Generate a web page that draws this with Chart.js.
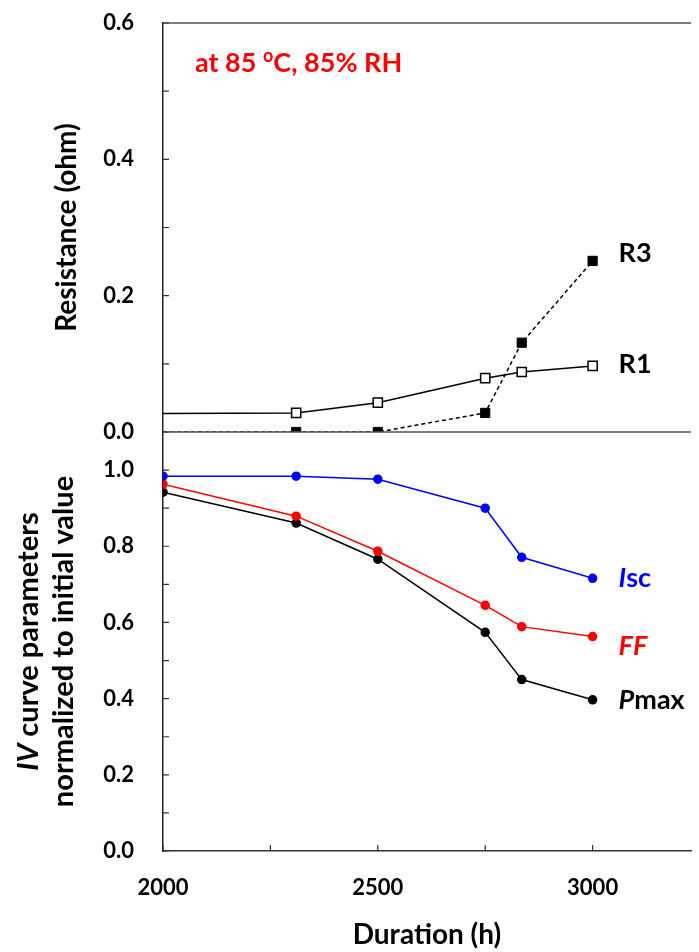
<!DOCTYPE html>
<html>
<head>
<meta charset="utf-8">
<script src="https://cdn.jsdelivr.net/npm/chart.js@4.4.0/dist/chart.umd.min.js"></script>
<style>
  html, body { margin: 0; padding: 0; background: #fff; overflow: hidden; }
  #chart { display: block; }
</style>
</head>
<body>
<canvas id="chart" width="699" height="952"></canvas>
<script>
// test duration (h)
const hours = [2000, 2310, 2500, 2750, 2835, 3000];

// series resistances (ohm)
const r1 = [0.027, 0.028, 0.043, 0.079, 0.088, 0.097];
const r3 = [0.000, 0.000, 0.000, 0.028, 0.131, 0.251];

// IV curve parameters normalized to initial value
const isc = [0.984, 0.984, 0.976, 0.900, 0.771, 0.716];
const ff = [0.963, 0.879, 0.787, 0.645, 0.589, 0.563];
const pmax = [0.942, 0.861, 0.766, 0.574, 0.450, 0.397];

// ticks (all marks) and the ones that get a label
const xTicks = [2000, 2250, 2500, 2750, 3000];
const xLabels = [2000, 2500, 3000];
const resTicks = [0, 0.1, 0.2, 0.3, 0.4, 0.5, 0.6];
const resLabels = [0, 0.2, 0.4, 0.6];
const ivTicks = [0, 0.1, 0.2, 0.3, 0.4, 0.5, 0.6, 0.7, 0.8, 0.9, 1.0];
const ivLabels = [0, 0.2, 0.4, 0.6, 0.8, 1.0];

const FONT = 'Lato';
Chart.defaults.font.family = FONT;

const pts = (ys) => hours.map((h, i) => ({x: h, y: ys[i]}));
const hasLabel = (list, v) => list.some(l => Math.abs(l - v) < 1e-6);
const noPad = (s) => { s.paddingTop = 0; s.paddingBottom = 0; s.paddingLeft = 0; s.paddingRight = 0; };

// draw text made of several runs (italic / superscript parts)
const drawRuns = (ctx, runs, x, y, size, align) => {
    const fontOf = (r) => `${r.italic ? 'italic ' : ''}bold ${r.sup ? Math.round(size * 0.65) : size}px ${FONT}`;
    let total = 0;
    runs.forEach(r => { ctx.font = fontOf(r); total += ctx.measureText(r.text).width; });
    let cx = align === 'center' ? x - total / 2 : x;
    ctx.textAlign = 'left';
    runs.forEach(r => {
        ctx.font = fontOf(r);
        ctx.fillStyle = r.color || '#000';
        ctx.fillText(r.text, cx, r.sup ? y - size * 0.38 : y);
        cx += ctx.measureText(r.text).width;
    });
};

const decorations = {
    id: 'decorations',
    afterDraw(chart) {
        const ctx = chart.ctx;
        const {x, yR, yIV} = chart.scales;
        ctx.save();

        // frame: top border and panel separator
        ctx.strokeStyle = '#555';
        ctx.lineWidth = 1.5;
        ctx.beginPath();
        ctx.moveTo(x.left, yR.top);
        ctx.lineTo(x.right, yR.top);
        ctx.moveTo(x.left, yR.getPixelForValue(0));
        ctx.lineTo(x.right, yR.getPixelForValue(0));
        ctx.stroke();

        // inward tick marks
        ctx.strokeStyle = '#333';
        ctx.lineWidth = 1.2;
        ctx.beginPath();
        [yR, yIV].forEach(s => {
            s.ticks.forEach(t => {
                const py = s.getPixelForValue(t.value);
                ctx.moveTo(x.left, py);
                ctx.lineTo(x.left + 6, py);
            });
        });
        x.ticks.forEach(t => {
            const px = x.getPixelForValue(t.value);
            ctx.moveTo(px, yIV.bottom);
            ctx.lineTo(px, yIV.bottom - 6);
        });
        ctx.stroke();

        // series names at line ends
        const last = hours.length - 1;
        const lx = x.getPixelForValue(hours[last]) + 26;
        ctx.textBaseline = 'middle';
        drawRuns(ctx, [{text: 'R3'}], lx, yR.getPixelForValue(r3[last]) - 8, 27, 'left');
        drawRuns(ctx, [{text: 'R1'}], lx, yR.getPixelForValue(r1[last]) - 2, 27, 'left');
        drawRuns(ctx, [{text: 'I', italic: true, color: '#0000ff'}, {text: 'sc', color: '#0000ff'}], lx, yIV.getPixelForValue(isc[last]), 27, 'left');
        drawRuns(ctx, [{text: 'FF', italic: true, color: '#ff0000'}], lx, yIV.getPixelForValue(ff[last]) + 10, 27, 'left');
        drawRuns(ctx, [{text: 'P', italic: true}, {text: 'max'}], lx, yIV.getPixelForValue(pmax[last]) + 1, 27, 'left');

        // test condition note
        ctx.textBaseline = 'alphabetic';
        drawRuns(ctx, [
            {text: 'at 85 ', color: '#ff0000'},
            {text: 'o', sup: true, color: '#ff0000'},
            {text: 'C, 85% RH', color: '#ff0000'}
        ], x.left + 32, yR.top + 49, 27, 'left');

        // y axis titles
        ctx.textBaseline = 'middle';
        ctx.save();
        ctx.translate(67, (yR.top + yR.bottom) / 2);
        ctx.rotate(-Math.PI / 2);
        drawRuns(ctx, [{text: 'Resistance (ohm)'}], 0, 0, 28, 'center');
        ctx.restore();

        ctx.save();
        ctx.translate(29, (yIV.top + yIV.bottom) / 2);
        ctx.rotate(-Math.PI / 2);
        drawRuns(ctx, [{text: 'IV', italic: true}, {text: ' curve parameters'}], 0, 0, 29, 'center');
        ctx.restore();
        ctx.save();
        ctx.translate(64, (yIV.top + yIV.bottom) / 2);
        ctx.rotate(-Math.PI / 2);
        drawRuns(ctx, [{text: 'normalized to initial value'}], 0, 0, 29, 'center');
        ctx.restore();

        ctx.restore();
    }
};

const yAxis = (tickList, labels, max, weight) => ({
    type: 'linear',
    position: 'left',
    stack: 'panels',
    stackWeight: weight,
    min: 0,
    max: max,
    afterFit: (s) => { s.width = 163; noPad(s); },
    afterBuildTicks: (s) => { s.ticks = tickList.map(v => ({value: v})); },
    grid: {display: false, drawTicks: false},
    border: {display: true, color: '#222', width: 1.5},
    ticks: {
        autoSkip: false,
        padding: 29,
        color: '#000',
        font: {size: 22, weight: 'bold'},
        callback: (v) => hasLabel(labels, v) ? v.toFixed(1) : ''
    }
});

new Chart(document.getElementById('chart'), {
    type: 'line',
    data: {
        datasets: [
            {label: 'R1', data: pts(r1), yAxisID: 'yR', borderColor: '#000', borderWidth: 1.5,
             pointStyle: 'rect', pointRadius: [0, 6.5, 6.5, 6.5, 6.5, 6.5], pointBackgroundColor: '#fff',
             pointBorderColor: '#000', pointBorderWidth: 1.5},
            {label: 'R3', data: pts(r3), yAxisID: 'yR', borderColor: '#000', borderWidth: 1.5, borderDash: [4, 3],
             pointStyle: 'rect', pointRadius: [0, 6.5, 6.5, 6.5, 6.5, 6.5], pointBackgroundColor: '#000',
             pointBorderColor: '#000', pointBorderWidth: 1},
            {label: 'Isc', data: pts(isc), yAxisID: 'yIV', borderColor: '#0000ff', borderWidth: 1.5,
             pointRadius: 4, pointBackgroundColor: '#0000ff', pointBorderColor: '#0000ff'},
            {label: 'FF', data: pts(ff), yAxisID: 'yIV', borderColor: '#ff0000', borderWidth: 1.5,
             pointRadius: 4, pointBackgroundColor: '#ff0000', pointBorderColor: '#ff0000'},
            {label: 'Pmax', data: pts(pmax), yAxisID: 'yIV', borderColor: '#000', borderWidth: 1.5,
             pointRadius: 4, pointBackgroundColor: '#000', pointBorderColor: '#000'}
        ]
    },
    options: {
        responsive: false,
        animation: false,
        layout: {padding: {top: 23, right: 0, bottom: 0, left: 0}},
        plugins: {legend: {display: false}, tooltip: {enabled: false}},
        scales: {
            x: {
                type: 'linear',
                position: 'bottom',
                min: 2000,
                max: 3229,
                afterFit: (s) => { s.height = 101; noPad(s); },
                afterBuildTicks: (s) => { s.ticks = xTicks.map(v => ({value: v})); },
                grid: {display: false, drawTicks: false},
                border: {display: true, color: '#333', width: 1.5},
                ticks: {
                    autoSkip: false,
                    maxRotation: 0,
                    padding: 24,
                    color: '#000',
                    font: {size: 22, weight: 'bold'},
                    callback: (v) => xLabels.includes(v) ? String(v) : ''
                },
                title: {display: true, text: 'Duration (h)', color: '#000',
                        font: {size: 28, weight: 'bold'}, padding: {top: 0, bottom: 0}}
            },
            // stacked panels: the later axis sits on top
            yIV: yAxis(ivTicks, ivLabels, 1.1, 419),
            yR: yAxis(resTicks, resLabels, 0.6, 409)
        }
    },
    plugins: [decorations]
});
</script>
</body>
</html>
